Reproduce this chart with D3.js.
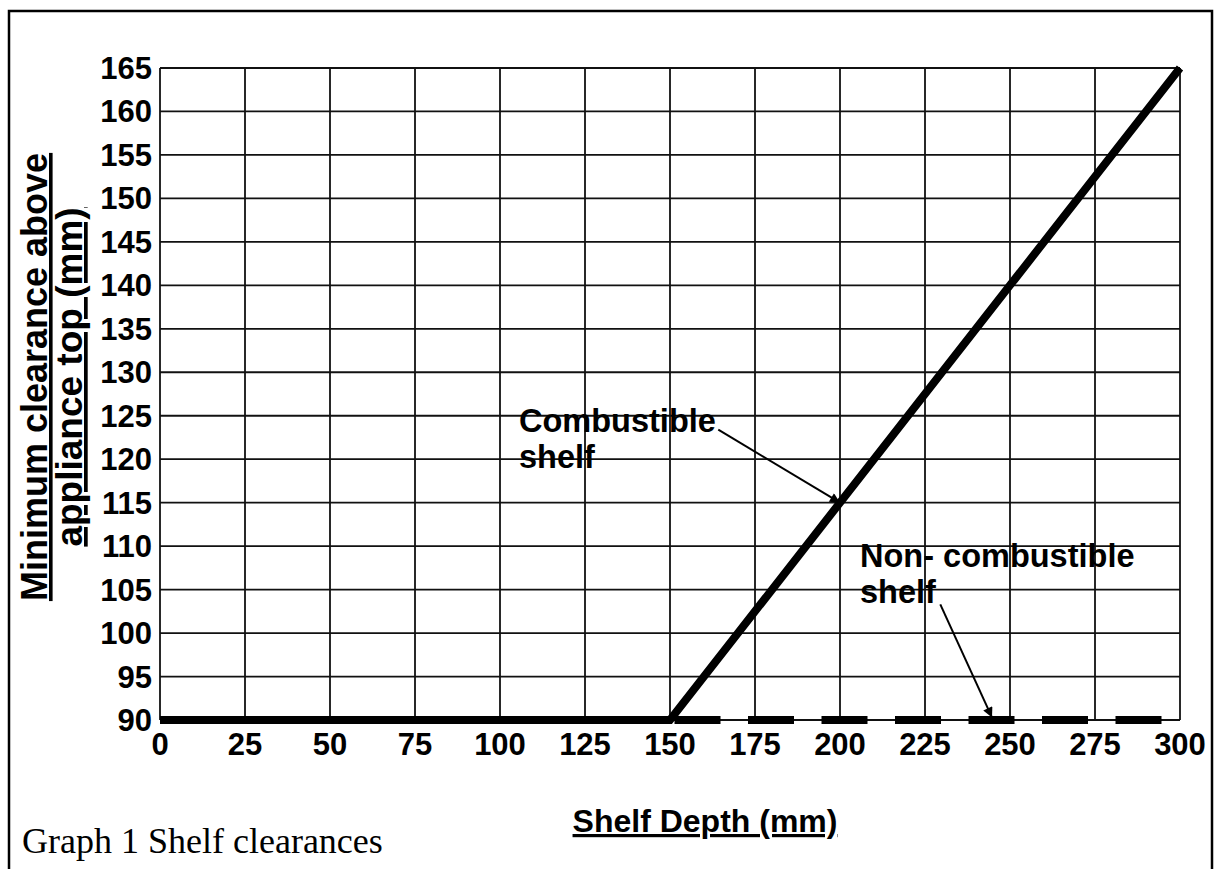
<!DOCTYPE html>
<html>
<head>
<meta charset="utf-8">
<script src="https://cdn.jsdelivr.net/npm/d3@7"></script>
<style>
  body { margin: 0; background: #fff; }
  svg text { font-family: "Liberation Sans", Arial, sans-serif; font-weight: bold; fill: #000; }
</style>
</head>
<body>
<div id="chart"></div>
<script>
// tick values for both axes
var xTicks = [0, 25, 50, 75, 100, 125, 150, 175, 200, 225, 250, 275, 300];
var yTicks = [90, 95, 100, 105, 110, 115, 120, 125, 130, 135, 140, 145, 150, 155, 160, 165];

// combustible shelf: flat then rising
var combX = [0, 150, 300];
var combY = [90, 90, 165];

// non-combustible shelf: flat at 90
var nonCombX = [0, 300];
var nonCombY = [90, 90];

var width = 1218, height = 869;

var svg = d3.select("#chart").append("svg")
    .attr("width", width)
    .attr("height", height);

// outer frame (bottom edge runs off the page)
svg.append("rect")
    .attr("x", 9).attr("y", 11)
    .attr("width", 1203).attr("height", 900)
    .attr("fill", "none")
    .attr("stroke", "#000")
    .attr("stroke-width", 2.5);

var x = d3.scaleLinear().domain([0, 300]).range([160, 1180]);
var y = d3.scaleLinear().domain([90, 165]).range([720, 68]);

// grid
svg.append("g").selectAll("line.v")
    .data(xTicks).enter().append("line")
    .attr("x1", d => x(d)).attr("x2", d => x(d))
    .attr("y1", y(90)).attr("y2", y(165))
    .attr("stroke", "#111").attr("stroke-width", 1.8);

svg.append("g").selectAll("line.h")
    .data(yTicks).enter().append("line")
    .attr("x1", x(0)).attr("x2", x(300))
    .attr("y1", d => y(d)).attr("y2", d => y(d))
    .attr("stroke", "#111").attr("stroke-width", 1.8);

// tick labels
svg.append("g").selectAll("text")
    .data(yTicks).enter().append("text")
    .attr("x", 152)
    .attr("y", d => y(d) + 11)
    .attr("text-anchor", "end")
    .style("font-size", "31px")
    .text(d => d);

svg.append("g").selectAll("text")
    .data(xTicks).enter().append("text")
    .attr("x", d => x(d))
    .attr("y", 755)
    .attr("text-anchor", "middle")
    .style("font-size", "31px")
    .text(d => d);

// axis titles
svg.append("text")
    .attr("x", 705).attr("y", 832)
    .attr("text-anchor", "middle")
    .style("font-size", "32px")
    .style("text-decoration", "underline")
    .text("Shelf Depth (mm)");

var yTitle = svg.append("g").attr("transform", "translate(0,377) rotate(-90)");
yTitle.append("text")
    .attr("x", 0).attr("y", 47)
    .attr("text-anchor", "middle")
    .style("font-size", "36px")
    .style("text-decoration", "underline")
    .text("Minimum clearance above");
yTitle.append("text")
    .attr("x", 0).attr("y", 82)
    .attr("text-anchor", "middle")
    .style("font-size", "37px")
    .style("text-decoration", "underline")
    .text("appliance top (mm)");

// lines
var line = d3.line().x(d => x(d[0])).y(d => y(d[1]));

svg.append("path")
    .datum(nonCombX.map((d, i) => [d, nonCombY[i]]))
    .attr("d", line)
    .attr("fill", "none")
    .attr("stroke", "#000")
    .attr("stroke-width", 8)
    .attr("stroke-dasharray", "46,27.5");

svg.append("path")
    .datum(combX.map((d, i) => [d, combY[i]]))
    .attr("d", line)
    .attr("fill", "none")
    .attr("stroke", "#000")
    .attr("stroke-width", 8)
    .attr("stroke-linejoin", "miter");

// arrow marker
svg.append("defs").append("marker")
    .attr("id", "arrow")
    .attr("viewBox", "0 0 10 10")
    .attr("refX", 10).attr("refY", 5)
    .attr("markerWidth", 6).attr("markerHeight", 5)
    .attr("markerUnits", "strokeWidth")
    .attr("orient", "auto")
    .append("path")
    .attr("d", "M0,0 L10,5 L0,10 Z")
    .attr("fill", "#000");

// annotations
svg.append("text")
    .attr("x", x(105.6)).attr("y", y(123.1))
    .style("font-size", "32.5px")
    .text("Combustible");
svg.append("text")
    .attr("x", x(105.6)).attr("y", y(123.1) + 36)
    .style("font-size", "32.5px")
    .text("shelf");
svg.append("line")
    .attr("x1", x(164.2)).attr("y1", y(123.4))
    .attr("x2", x(200)).attr("y2", y(115))
    .attr("stroke", "#000").attr("stroke-width", 2)
    .attr("marker-end", "url(#arrow)");

svg.append("text")
    .attr("x", x(205.9)).attr("y", y(107.6))
    .style("font-size", "32.5px")
    .text("Non- combustible");
svg.append("text")
    .attr("x", x(205.9)).attr("y", y(107.6) + 36)
    .style("font-size", "32.5px")
    .text("shelf");
svg.append("line")
    .attr("x1", x(229.5)).attr("y1", y(103.3))
    .attr("x2", x(244.7)).attr("y2", y(90.3))
    .attr("stroke", "#000").attr("stroke-width", 2)
    .attr("marker-end", "url(#arrow)");

// caption
svg.append("text")
    .attr("x", 22).attr("y", 853)
    .style("font-family", "'Liberation Serif', 'Times New Roman', serif")
    .style("font-weight", "normal")
    .style("font-size", "36px")
    .text("Graph 1 Shelf clearances");
</script>
</body>
</html>
